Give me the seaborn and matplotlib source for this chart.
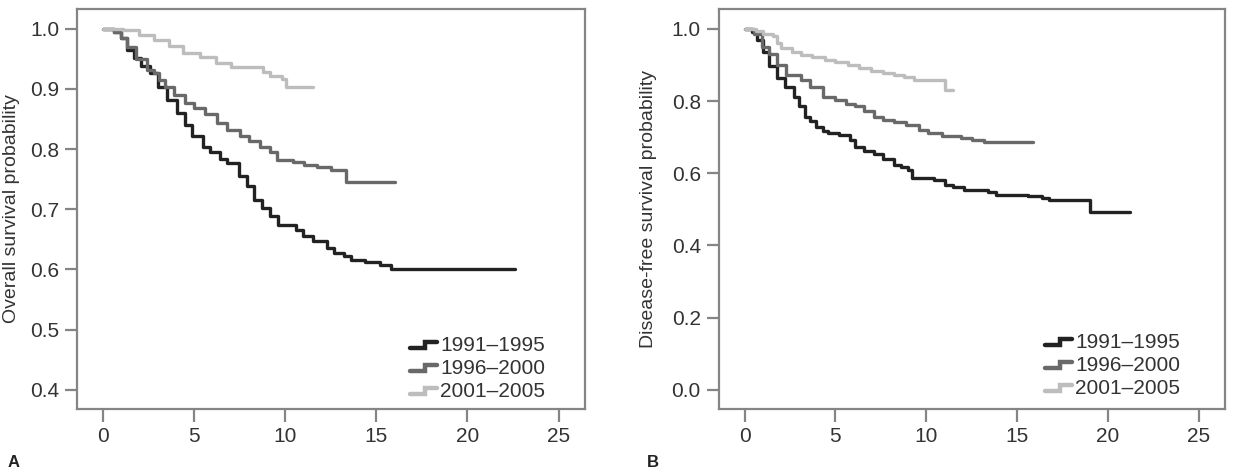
import matplotlib
matplotlib.use("Agg")
import matplotlib.pyplot as plt
from matplotlib.legend_handler import HandlerBase
from matplotlib.lines import Line2D
from matplotlib import font_manager
import seaborn as sns
import pandas as pd

sns.set_theme(style="ticks")
instaladas = {f.name for f in font_manager.fontManager.ttflist}
familias = [f for f in ['Liberation Sans Narrow', 'DejaVu Sans Condensed', 'Liberation Sans'] if f in instaladas]
plt.rcParams['font.family'] = familias + ['DejaVu Sans']

periods = ['1991\u20131995', '1996\u20132000', '2001\u20132005']
colores = {'1991\u20131995': '#222222', '1996\u20132000': '#696969', '2001\u20132005': '#bdbdbd'}

# Panel A - overall survival (years, probability)
os_t_91 = [0, 0.6, 1.0, 1.3, 1.7, 2.1, 2.6, 3.0, 3.5, 4.05, 4.5, 4.9, 5.5, 5.9, 6.4, 6.8, 7.45, 7.9, 8.3, 8.7,
           9.15, 9.6, 10.6, 11.0, 11.5, 12.3, 12.7, 13.2, 13.6, 14.4, 15.2, 15.8, 22.6]
os_s_91 = [1.0, 0.995, 0.985, 0.965, 0.952, 0.938, 0.926, 0.904, 0.882, 0.86, 0.84, 0.821, 0.804, 0.795, 0.783,
           0.777, 0.755, 0.738, 0.716, 0.702, 0.688, 0.674, 0.665, 0.655, 0.647, 0.636, 0.628, 0.622, 0.615, 0.613,
           0.608, 0.60, 0.60]
os_t_96 = [0, 0.6, 1.0, 1.3, 1.8, 2.4, 2.8, 3.1, 3.4, 3.9, 4.5, 5.0, 5.6, 6.25, 6.8, 7.5, 8.0, 8.6, 9.15, 9.55,
           10.4, 11.05, 11.75, 12.5, 13.35, 16.0]
os_s_96 = [1.0, 0.995, 0.985, 0.97, 0.95, 0.932, 0.926, 0.915, 0.904, 0.89, 0.876, 0.868, 0.858, 0.843, 0.832,
           0.821, 0.814, 0.804, 0.796, 0.782, 0.779, 0.774, 0.771, 0.765, 0.746, 0.746]
os_t_01 = [0, 1.1, 2.0, 2.8, 3.6, 4.4, 5.3, 6.2, 7.0, 8.4, 8.8, 9.15, 9.8, 10.05, 11.5]
os_s_01 = [1.0, 0.998, 0.99, 0.982, 0.972, 0.96, 0.953, 0.943, 0.937, 0.937, 0.928, 0.921, 0.916, 0.904, 0.904]

# Panel B - disease-free survival
dfs_t_91 = [0, 0.4, 0.7, 1.0, 1.35, 1.8, 2.2, 2.7, 3.0, 3.3, 3.6, 3.95, 4.3, 4.6, 5.2, 5.8, 6.1, 6.6, 7.1, 7.6,
            8.25, 8.6, 9.0, 9.2, 10.4, 11.05, 11.5, 12.1, 13.4, 13.85, 15.6, 16.4, 16.75, 19.0, 21.2]
dfs_s_91 = [1.0, 0.99, 0.97, 0.935, 0.896, 0.865, 0.84, 0.8125, 0.785, 0.757, 0.745, 0.729, 0.718, 0.711, 0.707,
            0.693, 0.674, 0.662, 0.652, 0.64, 0.623, 0.617, 0.609, 0.586, 0.582, 0.568, 0.562, 0.554, 0.547, 0.54,
            0.537, 0.531, 0.526, 0.494, 0.494]
dfs_t_96 = [0, 0.5, 0.95, 1.35, 1.8, 2.3, 3.08, 3.6, 4.34, 5.0, 5.6, 6.1, 6.6, 7.1, 7.6, 8.25, 8.9, 9.6, 10.1,
            10.85, 11.9, 12.5, 13.2, 15.9]
dfs_s_96 = [1.0, 0.985, 0.951, 0.93, 0.9, 0.873, 0.859, 0.84, 0.8125, 0.803, 0.793, 0.785, 0.772, 0.755, 0.748,
            0.743, 0.733, 0.72, 0.712, 0.702, 0.698, 0.692, 0.686, 0.686]
dfs_t_01 = [0, 0.6, 1.0, 1.57, 1.8, 2.0, 2.6, 3.08, 3.7, 4.4, 5.0, 5.7, 6.3, 6.95, 7.6, 8.25, 8.8, 9.3, 11.05, 11.5]
dfs_s_01 = [1.0, 0.993, 0.986, 0.979, 0.96, 0.946, 0.937, 0.928, 0.921, 0.913, 0.907, 0.9, 0.891, 0.882, 0.878,
            0.873, 0.866, 0.859, 0.831, 0.831]


def tabla(ts, ss):
    partes = []
    for p, t, s in zip(periods, ts, ss):
        partes.append(pd.DataFrame({'Periodo': p, 'Tiempo': t, 'Prob': s}))
    return pd.concat(partes, ignore_index=True)


datos_os = tabla([os_t_91, os_t_96, os_t_01], [os_s_91, os_s_96, os_s_01])
datos_dfs = tabla([dfs_t_91, dfs_t_96, dfs_t_01], [dfs_s_91, dfs_s_96, dfs_s_01])


class Escalon(HandlerBase):
    # icono de leyenda en forma de escalon
    def create_artists(self, legend, orig, xd, yd, w, h, fontsize, trans):
        xs = [xd, xd + 0.55 * w, xd + 0.55 * w, xd + w]
        ys = [yd + 0.2 * h, yd + 0.2 * h, yd + 0.6 * h, yd + 0.6 * h]
        ln = Line2D(xs, ys, color=orig.get_color(), lw=3.2, solid_joinstyle='miter', transform=trans)
        return [ln]


fig = plt.figure(figsize=(12.33, 4.72), dpi=100)
axA = fig.add_axes([0.0625, 0.1335, 0.412, 0.8475])
axB = fig.add_axes([0.583, 0.1335, 0.4105, 0.8475])

gris = '#858585'
texto = '#333333'
for ax, datos, ylab, ylim, yticks, legpos, labx in [
        (axA, datos_os, 'Overall survival probability', (0.368, 1.033), [0.4, 0.5, 0.6, 0.7, 0.8, 0.9, 1.0], (0.921, 0.02), -0.112),
        (axB, datos_dfs, 'Disease-free survival probability', (-0.053, 1.055), [0.0, 0.2, 0.4, 0.6, 0.8, 1.0], (0.911, 0.027), -0.122)]:
    sns.lineplot(data=datos, x='Tiempo', y='Prob', hue='Periodo', palette=colores, estimator=None,
                 drawstyle='steps-post', linewidth=2.4, ax=ax, legend=False)
    ax.set_xlim(-1.42, 26.45)
    ax.set_ylim(*ylim)
    ax.set_xticks([0, 5, 10, 15, 20, 25])
    ax.set_yticks(yticks)
    ax.set_yticklabels([f'{v:.1f}' for v in yticks])
    ax.set_xlabel('')
    ax.set_ylabel(ylab, fontsize=14, color=texto)
    ax.yaxis.set_label_coords(labx, 0.5)
    for sp in ax.spines.values():
        sp.set_color(gris)
        sp.set_linewidth(1.6)
    ax.tick_params(length=9, width=1.6, color=gris, labelsize=15, labelcolor=texto, pad=4)
    handles = [Line2D([], [], color=colores[p]) for p in periods]
    ax.legend(handles, periods, handler_map={Line2D: Escalon()}, loc='lower right',
              bbox_to_anchor=legpos, frameon=False, fontsize=15, labelspacing=0.2,
              handlelength=1.3, handletextpad=0.15, borderpad=0, borderaxespad=0,
              labelcolor=texto)

fig.text(0.006, 0.004, 'A', fontsize=12, fontweight='bold', color='#222222', va='bottom')
fig.text(0.525, 0.004, 'B', fontsize=12, fontweight='bold', color='#222222', va='bottom')

fig.savefig('out.png', dpi=100)
